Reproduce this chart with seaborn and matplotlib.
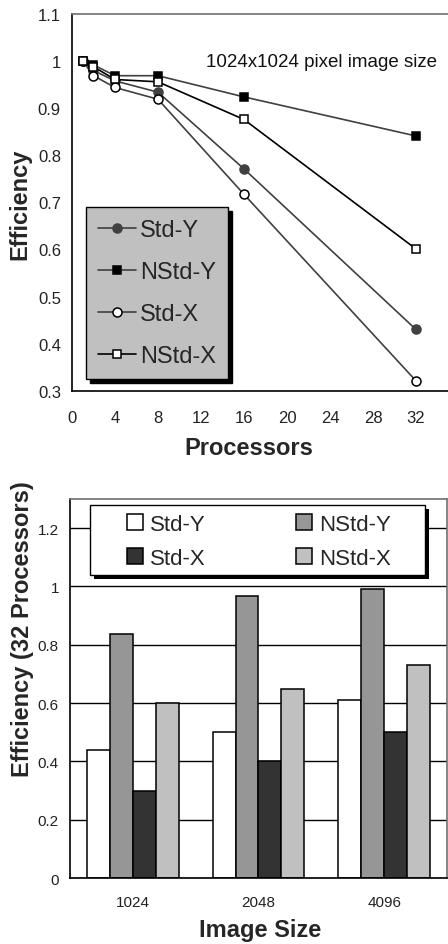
import matplotlib
matplotlib.use("Agg")
import matplotlib.pyplot as plt
import matplotlib.ticker as mticker
import matplotlib.patches as mpatches
import seaborn as sns
import pandas as pd

sns.set_theme(style="white")
plt.rcParams['font.family'] = ['Liberation Sans', 'DejaVu Sans']

# ---- data: top chart (1024x1024 image, efficiency vs processors)
processors = [1, 2, 4, 8, 16, 32]
std_y = [1.0, 0.98, 0.958, 0.934, 0.771, 0.43]
nstd_y = [1.0, 0.992, 0.969, 0.969, 0.924, 0.841]
std_x = [1.0, 0.969, 0.944, 0.919, 0.717, 0.321]
nstd_x = [1.0, 0.988, 0.961, 0.956, 0.876, 0.601]
line_series = ["Std-Y", "NStd-Y", "Std-X", "NStd-X"]

# ---- data: bottom chart (32 processors, efficiency vs image size)
image_sizes = ["1024", "2048", "4096"]
bar_std_y = [0.44, 0.50, 0.61]
bar_nstd_y = [0.836, 0.967, 0.99]
bar_std_x = [0.30, 0.40, 0.50]
bar_nstd_x = [0.60, 0.647, 0.729]

fig = plt.figure(figsize=(4.48, 9.45), dpi=100)

# ================= top chart =================
ax1 = fig.add_axes([0.1607, 0.5855, 0.8638, 0.3986])
vals = {"Std-Y": std_y, "NStd-Y": nstd_y, "Std-X": std_x, "NStd-X": nstd_x}
styles = {
    "Std-Y": dict(color="#404040", marker="o", mfc="#404040", mec="#404040", ms=6.5),
    "NStd-Y": dict(color="#404040", marker="s", mfc="black", mec="black", ms=6),
    "Std-X": dict(color="#404040", marker="o", mfc="white", mec="black", ms=6.5),
    "NStd-X": dict(color="black", marker="s", mfc="white", mec="black", ms=6),
}
for name in line_series:
    df = pd.DataFrame({"Processors": processors, "Efficiency": vals[name]})
    st = styles[name]
    sns.lineplot(data=df, x="Processors", y="Efficiency", ax=ax1, label=name,
                 color=st["color"], marker=st["marker"], markerfacecolor=st["mfc"],
                 markeredgecolor=st["mec"], markersize=st["ms"], markeredgewidth=1.1,
                 linewidth=1.2)

ax1.set_xlim(0, 36)
ax1.set_ylim(0.3, 1.1)
ax1.set_xticks([0, 4, 8, 12, 16, 20, 24, 28, 32])
ax1.set_yticks([0.3, 0.4, 0.5, 0.6, 0.7, 0.8, 0.9, 1.0, 1.1])
ax1.yaxis.set_major_formatter(mticker.FuncFormatter(lambda v, p: f"{v:g}"))
ax1.tick_params(axis="both", direction="in", length=4, width=1, colors="black",
                labelsize=12, labelcolor="#222222")
ax1.tick_params(axis="x", pad=14)
ax1.tick_params(axis="y", pad=8)
for s in ["left", "bottom"]:
    ax1.spines[s].set_color("black")
    ax1.spines[s].set_linewidth(1.2)
ax1.spines["top"].set_color("#707070")
ax1.spines["top"].set_linewidth(1.2)
ax1.spines["right"].set_visible(False)
ax1.set_xlabel("Processors", fontsize=17, fontweight="bold", va="center")
ax1.xaxis.set_label_coords(0.456, -0.152)
ax1.set_ylabel("Efficiency", fontsize=17, fontweight="bold", va="center")
ax1.yaxis.set_label_coords(-0.134, 0.498)
ax1.text(0.645, 0.875, "1024x1024 pixel image size", transform=ax1.transAxes,
         ha="center", va="center", fontsize=13.5, color="#111111")

leg1 = ax1.legend(loc="lower left", bbox_to_anchor=(0.036, 0.031), borderaxespad=0,
                  fontsize=17, frameon=True, fancybox=False, facecolor="#c0c0c0",
                  edgecolor="black", framealpha=1, handlelength=1.6,
                  handletextpad=0.2, labelspacing=0.85, borderpad=0.5,
                  shadow={"ox": 3, "oy": -3, "color": "black", "alpha": 1})
leg1.get_frame().set_linewidth(1.0)

# ================= bottom chart =================
ax2 = fig.add_axes([0.15625, 0.0698, 0.8415, 0.4011])
rows = []
for i, size in enumerate(image_sizes):
    rows.append((size, "Std-Y", bar_std_y[i]))
    rows.append((size, "NStd-Y", bar_nstd_y[i]))
    rows.append((size, "Std-X", bar_std_x[i]))
    rows.append((size, "NStd-X", bar_nstd_x[i]))
bdf = pd.DataFrame(rows, columns=["Image Size", "Series", "Efficiency"])
palette = {"Std-Y": "#ffffff", "NStd-Y": "#969696", "Std-X": "#333333", "NStd-X": "#c0c0c0"}
ax2.set_axisbelow(True)
ax2.yaxis.grid(True, color="black", linewidth=1)
sns.barplot(data=bdf, x="Image Size", y="Efficiency", hue="Series",
            hue_order=line_series, order=image_sizes, palette=palette,
            width=0.73, edgecolor="black", linewidth=1.1, saturation=1, ax=ax2,
            errorbar=None)
ax2.set_xlim(-0.5, 2.5)
ax2.set_ylim(0, 1.3)
ax2.set_yticks([0, 0.2, 0.4, 0.6, 0.8, 1.0, 1.2])
ax2.yaxis.set_major_formatter(mticker.FuncFormatter(lambda v, p: f"{v:g}"))
ax2.set_xticks([0.5, 1.5], minor=True)
ax2.tick_params(axis="x", which="major", length=0, pad=12, labelsize=11, labelcolor="#222222")
ax2.tick_params(axis="x", which="minor", direction="in", length=4, width=1, colors="black")
ax2.tick_params(axis="y", length=0, pad=8, labelsize=11, labelcolor="#222222")
for s in ["left", "bottom"]:
    ax2.spines[s].set_color("black")
    ax2.spines[s].set_linewidth(1.2)
for s in ["top", "right"]:
    ax2.spines[s].set_color("#707070")
    ax2.spines[s].set_linewidth(1.2)
ax2.set_xlabel("Image Size", fontsize=17, fontweight="bold", va="center")
ax2.xaxis.set_label_coords(0.505, -0.135)
ax2.set_ylabel("Efficiency (32 Processors)", fontsize=17, fontweight="bold", va="center")
ax2.yaxis.set_label_coords(-0.125, 0.66)

# legend frame drawn as a separate box with a solid shadow box behind it
shadow = mpatches.Rectangle((0.053 + 0.0106, 0.80 - 0.0106), 0.889, 0.185,
                            transform=ax2.transAxes, facecolor="black",
                            edgecolor="black", linewidth=0, zorder=3.9, clip_on=False)
frame = mpatches.Rectangle((0.053, 0.80), 0.889, 0.185, transform=ax2.transAxes,
                           facecolor="white", edgecolor="black", linewidth=1.0,
                           zorder=4, clip_on=False)
ax2.add_patch(shadow)
ax2.add_patch(frame)

handles, labels = ax2.get_legend_handles_labels()
hmap = dict(zip(labels, handles))
order = ["Std-Y", "Std-X", "NStd-Y", "NStd-X"]
leg2 = ax2.legend([hmap[k] for k in order], order, ncol=2, loc="upper left",
                  bbox_to_anchor=(0.151, 0.96), borderaxespad=0, fontsize=16,
                  frameon=False, handlelength=0.72, handleheight=0.72,
                  handletextpad=0.3, labelspacing=0.58, borderpad=0,
                  columnspacing=4.1)
leg2.set_zorder(5)

fig.savefig("out.png", dpi=100)
